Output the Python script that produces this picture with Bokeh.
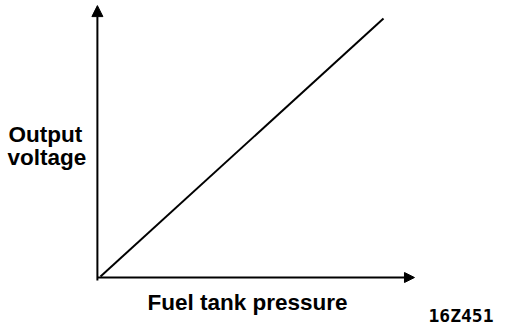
from bokeh.plotting import figure
from bokeh.models import Range1d, Arrow, NormalHead, Label
from bokeh.embed import file_html
from bokeh.resources import INLINE

# Data: idealised linear characteristic (normalised units)
pressure = [0.0, 1.0]
voltage = [0.0, 1.0]

x_label = "Fuel tank pressure"
y_label_lines = ["Output", "voltage"]
figure_code = "16Z451"

p = figure(width=528, height=328, output_backend="svg", toolbar_location=None,
           x_range=Range1d(-0.3534, 1.5124), y_range=Range1d(-0.2016, 1.0698),
           x_axis_location=None, y_axis_location=None, min_border=0)
p.outline_line_color = None
p.grid.visible = False
p.background_fill_color = "white"
p.border_fill_color = "white"

# characteristic line
p.line(pressure, voltage, line_color="black", line_width=2)

# axes with arrow heads
p.add_layout(Arrow(end=NormalHead(size=11, fill_color="black", line_color="black"),
                   x_start=-0.011, y_start=-0.0155, x_end=-0.011, y_end=1.05,
                   line_color="black", line_width=2))
p.add_layout(Arrow(end=NormalHead(size=10, fill_color="black", line_color="black"),
                   x_start=-0.011, y_start=-0.004, x_end=1.1095, y_end=-0.004,
                   line_color="black", line_width=2))

font = "Liberation Sans"
common = dict(x_units="screen", y_units="screen", text_font=font, text_font_size="22.5px",
              text_font_style="bold", text_color="black", text_baseline="alphabetic")
p.add_layout(Label(x=8, y=194, text=y_label_lines[0], **common))
p.add_layout(Label(x=7, y=171, text=y_label_lines[1], **common))
p.add_layout(Label(x=147, y=26, text=x_label, **common))
p.add_layout(Label(x=428, y=13, x_units="screen", y_units="screen", text=figure_code,
                   text_font="DejaVu Sans Mono", text_font_size="18px", text_font_style="bold",
                   text_color="black", text_baseline="alphabetic"))

open("out.html", "w").write(file_html(p, INLINE))
